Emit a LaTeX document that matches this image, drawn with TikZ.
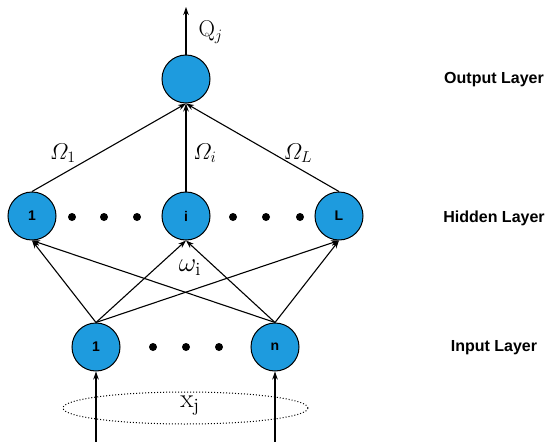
\documentclass[tikz,border=0pt]{standalone}
\usepackage{fontspec}
\setsansfont{Liberation Sans}
\usetikzlibrary{arrows.meta,shapes.geometric}
\definecolor{nodeblue}{RGB}{30,155,222}
\tikzset{
  neuron/.style={circle,draw=black,line width=1pt,fill=nodeblue,minimum size=48pt,inner sep=0pt,font=\sffamily\bfseries\fontsize{14}{16}\selectfont},
  conn/.style={line width=1.1pt,-{Stealth[length=8pt,width=5.5pt]}},
  layerlabel/.style={font=\sffamily\bfseries\fontsize{16}{18}\selectfont},
  dotmark/.style={circle,fill=black,inner sep=0pt,minimum size=8pt},
  wlabel/.style={font=\fontsize{20.74}{24}\selectfont}
}
\begin{document}
\begin{tikzpicture}[x=1pt,y=-1pt]
\useasboundingbox (0,0) rectangle (550,442);
% nodes
\node[neuron] (out) at (186,79) {};
\node[neuron] (h1) at (32,216) {1};
\node[neuron] (hi) at (186,216) {i};
\node[neuron] (hL) at (339,216) {L};
\node[neuron] (in1) at (96,347) {1};
\node[neuron] (inn) at (275,347) {n};
% dots
\foreach \x/\n in {72/a,104/b,137/c,233/d,266/e,300/f}{\node[dotmark] (hd\n) at (\x,217) {};}
\foreach \x/\n in {153/a,186/b,219/c}{\node[dotmark] (id\n) at (\x,347) {};}
% output arrow
\coordinate (qend) at (186,7);
\draw[conn] (out.north) -- (qend);
\node[wlabel,anchor=west] (q) at (195,32) {\scalebox{1.1}{Q$_j$}};
% hidden to output
\draw[conn] (h1.north) -- (out.south);
\draw[conn] (hi.north) -- (out.south);
\draw[conn] (hL.north) -- (out.south);
\node[wlabel] (o1) at (63,153) {\scalebox{1.1}{$\mathnormal{\Omega}_1$}};
\node[wlabel] (oi) at (205,153) {\scalebox{1.1}{$\mathnormal{\Omega}_i$}};
\node[wlabel] (oL) at (298,153) {\scalebox{1.1}{$\mathnormal{\Omega}_L$}};
% input to hidden
\foreach \s in {in1,inn}{
  \foreach \t in {h1,hi,hL}{
    \draw[conn] (\s.north) -- (\t.south);
  }
}
\node[wlabel] (w) at (190,268) {\scalebox{1.3}{$\omega_{\mathrm{i}}$}};
% input ellipse
\node[draw,dotted,line width=1pt,ellipse,minimum width=245pt,minimum height=32pt,inner sep=0pt] (ell) at (185.5,408) {};
\node[wlabel] (xj) at (190,406) {\scalebox{1.3}{$\mathrm{x}_{\mathrm{j}}$}};
\coordinate (b1) at (96,442);
\coordinate (bn) at (275,442);
\draw[conn] (b1) -- (in1.south);
\draw[conn] (bn) -- (inn.south);
% layer labels
\node[layerlabel] (lo) at (494,80) {Output Layer};
\node[layerlabel] (lh) at (494,218) {Hidden Layer};
\node[layerlabel] (li) at (494,348) {Input Layer};
\end{tikzpicture}
\end{document}
